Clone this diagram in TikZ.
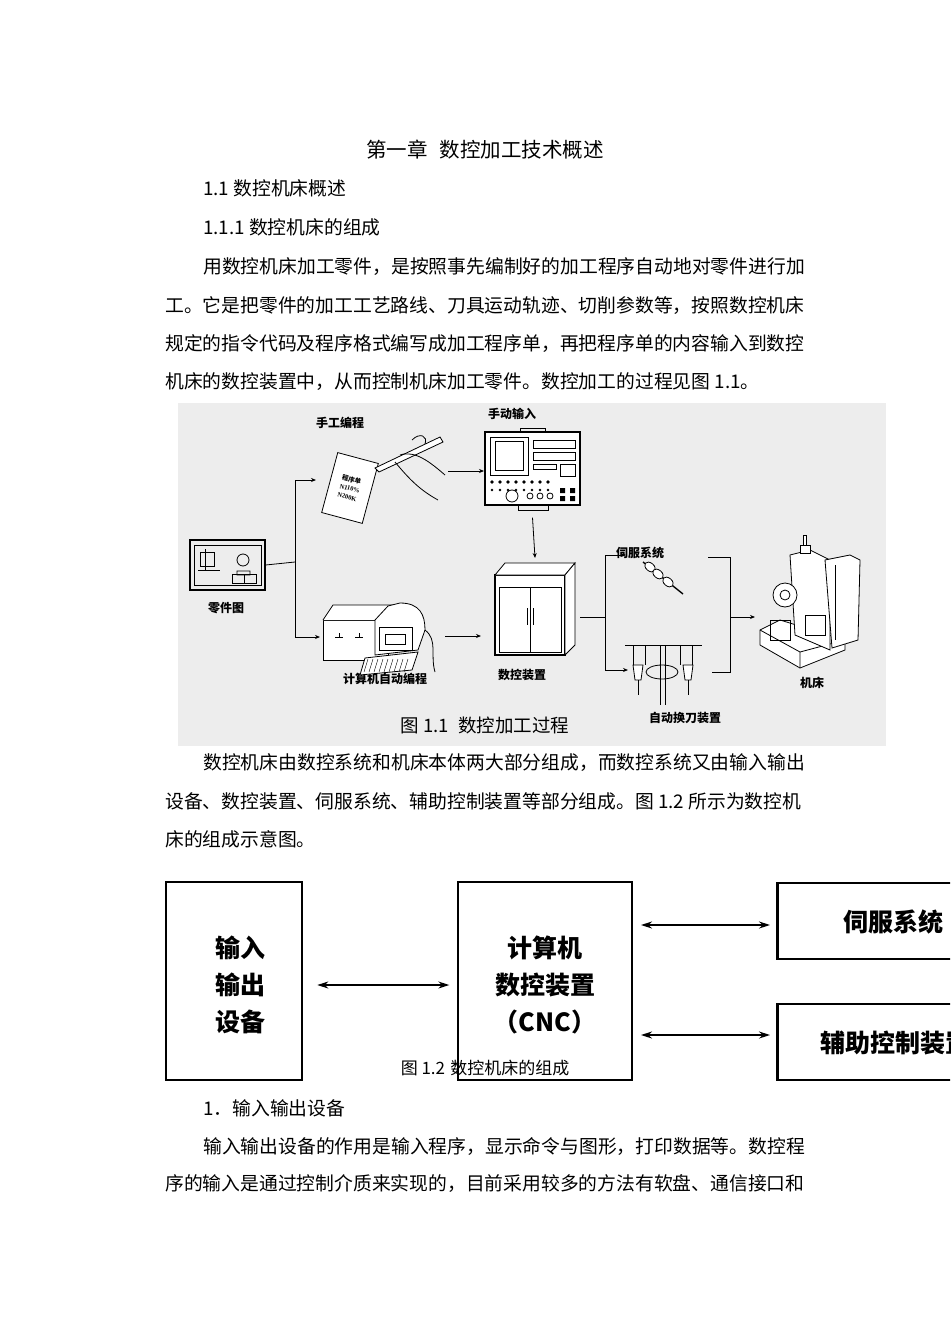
\documentclass[tikz,border=0pt]{standalone}
\usepackage{fontspec}
\setmainfont{Liberation Serif}
\newfontfamily\cjk{Noto Sans CJK SC}
\usetikzlibrary{arrows.meta}
\newcommand\jline[2]{#2}
\begin{document}
\begin{tikzpicture}[x=1pt,y=-1pt,
  body/.style={anchor=west,inner sep=0,font=\cjk\fontsize{18.8}{20}\selectfont},
  flab/.style={inner sep=0,font=\cjk\bfseries\fontsize{12}{12}\selectfont},
  farr/.style={-{Stealth[length=5pt,width=4pt]},line width=0.8pt},
  fl/.style={line width=0.8pt},
  bigbox/.style={draw,line width=2.6pt},
  btxt/.style={inner sep=0,font=\cjk\bfseries\fontsize{25}{25}\selectfont},
  darr/.style={{Stealth[length=11pt,width=7pt]}-{Stealth[length=11pt,width=7pt]},line width=1.3pt}]
\useasboundingbox (0,0) rectangle (950,1343);
\fill[white] (0,0) rectangle (950,1343);
\clip (0,0) rectangle (950,1343);
% ---- text
\node[inner sep=0,font=\cjk\fontsize{20.5}{21}\selectfont] (title) at (485,150) {第一章\hspace{0.6em}数控加工技术概述};
\node[body] (h1) at (203,188) {1.1 数控机床概述};
\node[body] (h2) at (203,227) {1.1.1 数控机床的组成};
\node[body] (p1) at (203,267) {用数控机床加工零件，是按照事先编制好的加工程序自动地对零件进行加};
\node[body] (p2) at (165,306) {工。它是把零件的加工工艺路线、刀具运动轨迹、切削参数等，按照数控机床};
\node[body] (p3) at (165,344) {规定的指令代码及程序格式编写成加工程序单，再把程序单的内容输入到数控};
\node[body] (p4) at (165,382) {机床的数控装置中，从而控制机床加工零件。数控加工的过程见图 1.1。};
\node[body] (q1) at (203,763) {数控机床由数控系统和机床本体两大部分组成，而数控系统又由输入输出};
\node[body] (q2) at (165,801) {设备、数控装置、伺服系统、辅助控制装置等部分组成。图 1.2 所示为数控机};
\node[body] (q3) at (165,839) {床的组成示意图。};
\node[body] (r0) at (203,1108) {1．输入输出设备};
\node[body] (r1) at (203,1146) {输入输出设备的作用是输入程序，显示命令与图形，打印数据等。数控程};
\node[body] (r2) at (165,1184) {序的输入是通过控制介质来实现的，目前采用较多的方法有软盘、通信接口和};
% ---- figure 1.1
\fill[black!7] (178,403) rectangle (886,746);
% part drawing
\node[draw,line width=1.2pt,minimum width=75pt,minimum height=50pt,inner sep=0] (part) at (227.5,565) {};
\draw[fl] (194,545) rectangle (261,585);
\draw[fl] (200,552) rectangle (214,566) (205,549)--(205,570) (198,570)--(220,570);
\draw[fl] (243,560) circle (6pt) (237,571) rectangle (250,575);
\draw[fl] (232,574) rectangle (256,583) (244,574)--(244,583);
\node[flab] (lpart) at (226,608) {零件图};
% manual programming
\node[flab] (lman) at (340,423) {手工编程};
\node[draw,fl,fill=white,rotate=-15,minimum width=42pt,minimum height=62pt,inner sep=1pt,font=\bfseries\fontsize{6.5}{9}\selectfont,align=left] (paper) at (350,488) {\cjk 程序单\\N110\%\\N200K};
\draw[fl,fill=white] (375,468) -- (440,437) -- (443,442) -- (379,472) -- cycle;
\draw[fl] (400,455) .. controls (415,450) and (430,462) .. (445,475) (395,462) .. controls (410,480) and (420,490) .. (438,500);
\draw[fl] (412,440) .. controls (420,432) and (428,436) .. (425,444);
% manual input console
\node[flab] (lmi) at (512,414) {手动输入};
\node[draw,line width=1.2pt,fill=white,minimum width=95pt,minimum height=73pt,inner sep=0] (cons) at (532.5,468.5) {};
\draw[fl] (490,437) rectangle (528,475) (495,441) rectangle (523,470);
\draw[fl] (533,440) rectangle (575,448) (533,452) rectangle (575,460) (533,464) rectangle (556,469) (560,464) rectangle (575,476);
\foreach \x in {492,500,508,516,524,532,540,548} \fill (\x,482) circle (1.8pt);
\foreach \x in {492,500,508,516,524,532,540,548} \fill (\x,490) circle (1.4pt);
\draw[fl] (512,496) circle (6pt);
\foreach \x in {530,540,550} \draw[fl] (\x,496) circle (3pt);
\foreach \x in {560,570} \fill (\x,488) rectangle +(5,5) (\x,496) rectangle +(5,5);
\draw[fl] (520,432) rectangle (545,428) (518,505) rectangle (548,510);
% computer
\node[flab] (lcomp) at (385,679) {计算机自动编程};
\node[draw,fl,fill=white,minimum width=65pt,minimum height=40pt,inner sep=0] (comp) at (355.5,640) {};
\draw[fl,fill=white] (323,620) -- (333,605) -- (395,605) -- (388,620);
\draw[fl] (335,637) -- (343,637) (339,633)--(339,637) (355,637)--(363,637) (359,633)--(359,637);
\draw[fl,fill=white] (375,620) -- (388,606) -- (400,603) .. controls (420,603) and (425,615) .. (425,630) -- (418,650) -- (375,655) -- cycle;
\draw[fl] (379,627) rectangle (412,650) (385,634) rectangle (405,644);
\draw[fl,fill=white] (365,658) -- (418,652) -- (412,670) -- (360,675) -- cycle;
\foreach \i in {0,...,8} \draw (368+\i*5,659) -- (364+\i*5,672);
\draw[fl] (425,630) .. controls (438,640) and (430,655) .. (435,672);
% cabinet
\node[draw,line width=1.2pt,fill=white,minimum width=70pt,minimum height=80pt,inner sep=0] (nc) at (530,615) {};
\draw[fl,fill=white] (495,575) -- (505,563) -- (575,563) -- (565,575) -- cycle;
\draw[fl,fill=white] (565,575) -- (575,563) -- (575,645) -- (565,655) -- cycle;
\draw[fl] (499,587) rectangle (561,652) (530,587) -- (530,652) (527,608)--(527,625) (533,608)--(533,625);
\node[flab] (lnc) at (522,675) {数控装置};
% servo
\node[flab] (lservo) at (640,553) {伺服系统};
\coordinate (servo) at (660,573);
\draw[line width=1.4pt] (643,562) -- (683,594);
\foreach \p in {(650,567),(658,574),(668,582)} \draw[fl,fill=white,rotate around={-40:\p}] \p ellipse (6pt and 4pt);
% ATC
\coordinate (atc) at (663,670);
\draw[fl] (625,645) -- (702,645);
\foreach \x in {633,645,680,692} \draw[fl] (\x,645) -- (\x,665);
\draw[fl] (660,645) -- (660,705) (665,645) -- (665,705);
\draw[fl] (662,672) ellipse (16pt and 7pt);
\foreach \x in {638,688} {\draw[fl,fill=white] (\x-5,665) -- (\x+5,665) -- (\x+3,680) -- (\x-3,680) -- cycle; \draw[fl] (\x,680) -- (\x,695);}
\node[flab] (latc) at (685,718) {自动换刀装置};
% machine
\node[inner sep=0,minimum width=105pt,minimum height=115pt] (mach) at (808,602) {};
\draw[fl,fill=white] (760,630) -- (780,620) -- (845,640) -- (845,650) -- (800,668) -- (760,645) -- cycle;
\draw[fl] (760,630) -- (800,652) -- (845,640) (800,652) -- (800,668);
\draw[fl,fill=white] (790,555) -- (810,550) -- (830,560) -- (830,650) -- (795,635) -- cycle;
\draw[fl,fill=white] (800,545) rectangle (810,553) (803,535) rectangle (806,545);
\draw[fl,fill=white] (825,560) -- (850,555) -- (860,560) -- (858,640) -- (832,648) -- cycle;
\draw[fl] (835,565) -- (835,640);
\draw[fl,fill=white] (785,595) circle (12pt) (785,595) circle (5pt);
\draw[fl] (805,615) rectangle (825,635) (770,620) rectangle (790,640);
\node[flab] (lmach) at (812,683) {机床};
% connectors
\coordinate (b1) at (295,562);
\coordinate (bt) at (295,480);
\coordinate (bb) at (295,637);
\draw[fl] (part.east) -- (b1);
\draw[fl] (bt) -- (bb);
\draw[farr] (bt) -- (316,480);
\draw[farr] (bb) -- (320,637);
\draw[farr] (448,471) -- (484,471);
\draw[farr] (cons.south) ++(0,12) -- (535,558);
\draw[farr] (445,636) -- (481,636);
\coordinate (c1) at (605,555);
\coordinate (c2) at (605,670);
\draw[fl] (580,617) -- (605,617);
\draw[fl] (c1) -- (c2);
\draw[farr] (c1) -- (626,555);
\draw[farr] (c2) -- (628,670);
\coordinate (d1) at (730,557);
\coordinate (d2) at (730,672);
\draw[fl] (708,557) -- (d1) -- (d2) -- (712,672);
\draw[farr] (730,617) -- (755,617);
\node[inner sep=0,font=\cjk\fontsize{18.5}{20}\selectfont] (cap1) at (485,725) {图 1.1\hspace{0.5em}数控加工过程};
% ---- figure 1.2
\node[bigbox,minimum width=136pt,minimum height=198pt,inner sep=0] (io) at (234,981) {};
\node[btxt,align=center] at (240,985) {输入\\[12pt]输出\\[12pt]设备};
\node[bigbox,minimum width=174pt,minimum height=198pt,inner sep=0] (cnc) at (545,981) {};
\node[btxt,align=center] at (545,985) {计算机\\[12pt]数控装置\\[12pt]（CNC）};
\node[bigbox,minimum width=200pt,minimum height=76pt,inner sep=0,anchor=west] (servo2) at (776,921) {};
\node[btxt,anchor=west] at (843,922) {伺服系统};
\node[bigbox,minimum width=200pt,minimum height=76pt,inner sep=0,anchor=west] (aux) at (776,1042) {};
\node[btxt,anchor=west] at (820,1043) {辅助控制装置};
\draw[darr] (io.east) ++(14,4) -- ++(132,0);
\draw[darr] (641,925) -- (770,925);
\draw[darr] (641,1035) -- (770,1035);
\node[inner sep=0,font=\cjk\fontsize{17}{18}\selectfont] (cap2) at (485,1068) {图 1.2\hspace{0.3em}数控机床的组成};
\end{tikzpicture}
\end{document}
